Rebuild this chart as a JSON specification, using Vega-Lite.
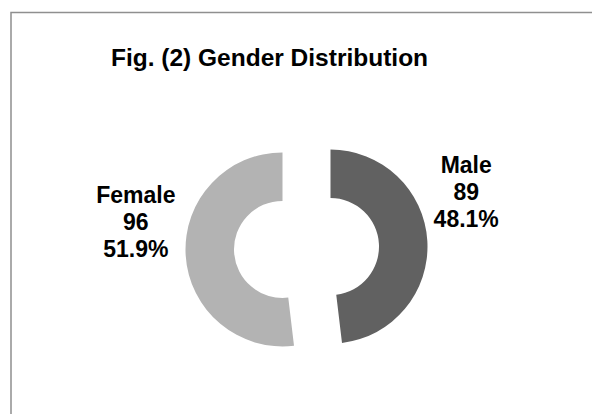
{
  "$schema": "https://vega.github.io/schema/vega-lite/v6.json",
  "autosize": {"type": "none"},
  "width": 591,
  "height": 471,
  "padding": {"left": 11, "top": 12.5, "right": -10, "bottom": -69.5},
  "background": "white",
  "view": {"stroke": "#8f8f8f", "strokeWidth": 1.5, "fill": "white"},
  "title": {
    "text": "Fig. (2) Gender Distribution",
    "font": "Liberation Sans",
    "fontSize": 24.5,
    "fontWeight": "bold",
    "color": "#000000",
    "anchor": "middle",
    "frame": "group",
    "baseline": "alphabetic",
    "offset": -78,
    "dx": -37
  },
  "config": {
    "view": {"stroke": "#8f8f8f", "strokeWidth": 1.5}
  },
  "data": {
    "values": [
      {"gender": "Male", "count": 89, "label": ["Male", "89", "48.1%"]},
      {"gender": "Female", "count": 96, "label": ["Female", "96", "51.9%"]}
    ]
  },
  "encoding": {
    "theta": {"field": "count", "type": "quantitative", "stack": true},
    "order": {"field": "gender", "sort": "descending"}
  },
  "layer": [
    {
      "mark": {"type": "arc", "outerRadius": 97, "innerRadius": 48.5, "xOffset": 24, "yOffset": -1.4, "fill": "#616161"},
      "encoding": {
        "opacity": {"condition": {"test": "datum.gender === 'Male'", "value": 1}, "value": 0}
      }
    },
    {
      "mark": {"type": "arc", "outerRadius": 97, "innerRadius": 48.5, "xOffset": -24, "yOffset": 1.4, "fill": "#b3b3b3"},
      "encoding": {
        "opacity": {"condition": {"test": "datum.gender === 'Female'", "value": 1}, "value": 0}
      }
    },
    {
      "mark": {"type": "text", "radius": 160, "dy": -72.5, "font": "Liberation Sans", "fontSize": 23, "fontWeight": "bold", "lineHeight": 27, "align": "center", "baseline": "middle", "color": "#000000"},
      "encoding": {
        "text": {"field": "label"},
        "opacity": {"condition": {"test": "datum.gender === 'Male'", "value": 1}, "value": 0}
      }
    },
    {
      "mark": {"type": "text", "radius": 171, "dy": -62, "font": "Liberation Sans", "fontSize": 23, "fontWeight": "bold", "lineHeight": 27, "align": "center", "baseline": "middle", "color": "#000000"},
      "encoding": {
        "text": {"field": "label"},
        "opacity": {"condition": {"test": "datum.gender === 'Female'", "value": 1}, "value": 0}
      }
    }
  ]
}
